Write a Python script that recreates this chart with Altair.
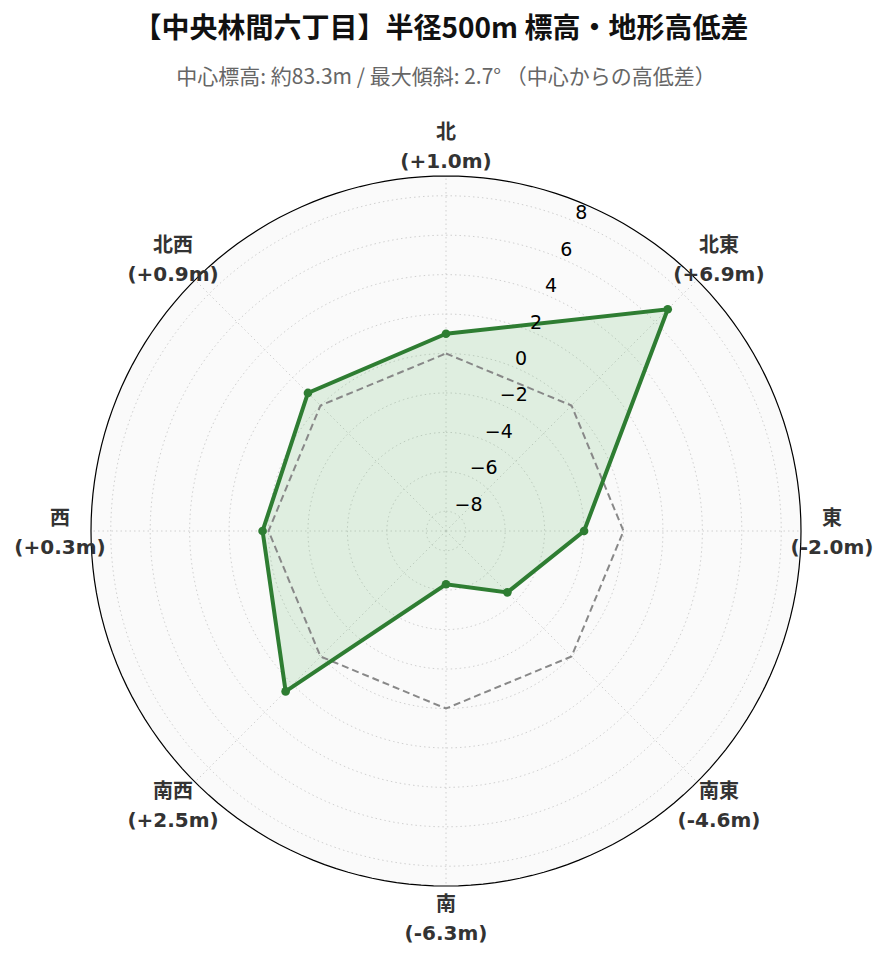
import altair as alt
import pandas as pd

# ---- data ----
directions = ["北", "北東", "東", "南東", "南", "南西", "西", "北西"]
angles_deg = [0, 45, 90, 135, 180, 225, 270, 315]
diffs = [1.0, 6.9, -2.0, -4.6, -6.3, 2.5, 0.3, 0.9]
r_ticks = [-8, -6, -4, -2, 0, 2, 4, 6, 8]
r_tick_labels = ["−8", "−6", "−4", "−2", "0", "2", "4", "6", "8"]
R_MIN, R_MAX = -9, 9
RLABEL_ANGLE = 22.5
title_text = "【中央林間六丁目】半径500m 標高・地形高低差"
subtitle_text = "中心標高: 約83.3m / 最大傾斜: 2.7° （中心からの高低差）"

SPAN = R_MAX - R_MIN
SIZE = 710
LABEL_R = SPAN * 386 / 355

FONT_LBL = "DejaVu Sans, Noto Sans CJK JP"
FONT_CJK = "Noto Sans CJK JP"

# series table (closed polygon)
series = pd.DataFrame({"dir": directions, "angle": angles_deg, "diff": diffs, "i": range(len(diffs))})
series_closed = pd.concat([series, series.iloc[[0]].assign(i=len(diffs))], ignore_index=True)
series["label"] = [f"{d}\n({v:+.1f}m)" for d, v in zip(directions, diffs)]

# grid circles
circ_angles = list(range(0, 361, 2))
grid = pd.DataFrame([{"level": t, "angle": a, "i": k} for t in r_ticks for k, a in enumerate(circ_angles)])
outer = pd.DataFrame([{"level": R_MAX, "angle": a, "i": k} for k, a in enumerate(circ_angles)])
ticks = pd.DataFrame({"level": r_ticks, "label": r_tick_labels, "angle": RLABEL_ANGLE})
spokes = pd.DataFrame({"angle": angles_deg})

sc = alt.Scale(domain=[-SPAN, SPAN], nice=False, zero=False)
X = lambda f: alt.X(f, type="quantitative", scale=sc, axis=None)
Y = lambda f: alt.Y(f, type="quantitative", scale=sc, axis=None)


def base(df, name, rexpr):
    return alt.Chart(df).transform_calculate(
        **{f"x_{name}": f"({rexpr}) * sin(datum.angle * PI / 180)",
           f"y_{name}": f"({rexpr}) * cos(datum.angle * PI / 180)"}
    )


bg = base(outer, "o", f"datum.level - ({R_MIN})").mark_line(
    fill="#fafafa", stroke="#fafafa", strokeWidth=0
).encode(x=X("x_o"), y=Y("y_o"), order=alt.Order("i:Q"))

grid_lines = base(grid, "g", f"datum.level - ({R_MIN})").mark_line(
    stroke="#d0d0d0", strokeWidth=1, strokeDash=[1.5, 3]
).encode(x=X("x_g"), y=Y("y_g"), detail="level:N", order=alt.Order("i:Q"))

spoke_lines = alt.Chart(spokes).transform_calculate(
    x_s=f"{SPAN} * sin(datum.angle * PI / 180)",
    y_s=f"{SPAN} * cos(datum.angle * PI / 180)",
    zero="0",
).mark_rule(stroke="#d0d0d0", strokeWidth=1, strokeDash=[1.5, 3]).encode(
    x=X("zero"), y=Y("zero"), x2="x_s:Q", y2="y_s:Q"
)

outer_line = base(outer, "o", f"datum.level - ({R_MIN})").mark_line(
    stroke="black", strokeWidth=1.2
).encode(x=X("x_o"), y=Y("y_o"), order=alt.Order("i:Q"))

fill_poly = base(series_closed, "p", f"datum.diff - ({R_MIN})").mark_line(
    fill="#4caf50", fillOpacity=0.15, strokeWidth=0, stroke="transparent"
).encode(x=X("x_p"), y=Y("y_p"), order=alt.Order("i:Q"))

zero_line = base(series_closed, "z", f"0 - ({R_MIN})").mark_line(
    stroke="#888888", strokeWidth=2, strokeDash=[7, 4]
).encode(x=X("x_z"), y=Y("y_z"), order=alt.Order("i:Q"))

main_line = base(series_closed, "p", f"datum.diff - ({R_MIN})").mark_line(
    stroke="#2e7d32", strokeWidth=4, strokeJoin="miter"
).encode(x=X("x_p"), y=Y("y_p"), order=alt.Order("i:Q"))

points = base(series, "p", f"datum.diff - ({R_MIN})").mark_point(
    filled=True, color="#2e7d32", size=75, opacity=1
).encode(x=X("x_p"), y=Y("y_p"))

tick_text = base(ticks, "t", f"datum.level - ({R_MIN})").mark_text(
    align="left", baseline="bottom", font="DejaVu Sans", fontSize=19, color="black", dx=1, dy=2
).encode(x=X("x_t"), y=Y("y_t"), text="label:N")

dir_text = base(series, "d", f"{LABEL_R}").mark_text(
    align="center", baseline="middle", font=FONT_LBL, fontSize=20, fontWeight="bold",
    color="#333333", lineBreak="\n", lineHeight=29, dy=-12
).encode(x=X("x_d"), y=Y("y_d"), text="label:N")

one = pd.DataFrame({"k": [0]})
title_mark = alt.Chart(one).mark_text(
    text=title_text, font=FONT_CJK, fontSize=28, fontWeight="bold", color="#111111",
    align="center", baseline="middle"
).encode(x=alt.value(SIZE / 2 - 5), y=alt.value(30 - 176))

subtitle_mark = alt.Chart(one).mark_text(
    text=subtitle_text, font=FONT_CJK, fontSize=21, color="#666666",
    align="center", baseline="middle"
).encode(x=alt.value(SIZE / 2), y=alt.value(78 - 176))

chart = alt.layer(
    bg, grid_lines, spoke_lines, outer_line, fill_poly, zero_line, main_line, points,
    tick_text, dir_text, title_mark, subtitle_mark
).properties(
    width=SIZE, height=SIZE,
    background="white",
    autosize=alt.AutoSizeParams(type="none"),
    padding={"left": 83, "top": 168, "right": 80, "bottom": 70},
).configure_view(stroke="transparent", strokeWidth=0)

chart.save("out.html", embed_options={"renderer": "svg", "actions": False})
